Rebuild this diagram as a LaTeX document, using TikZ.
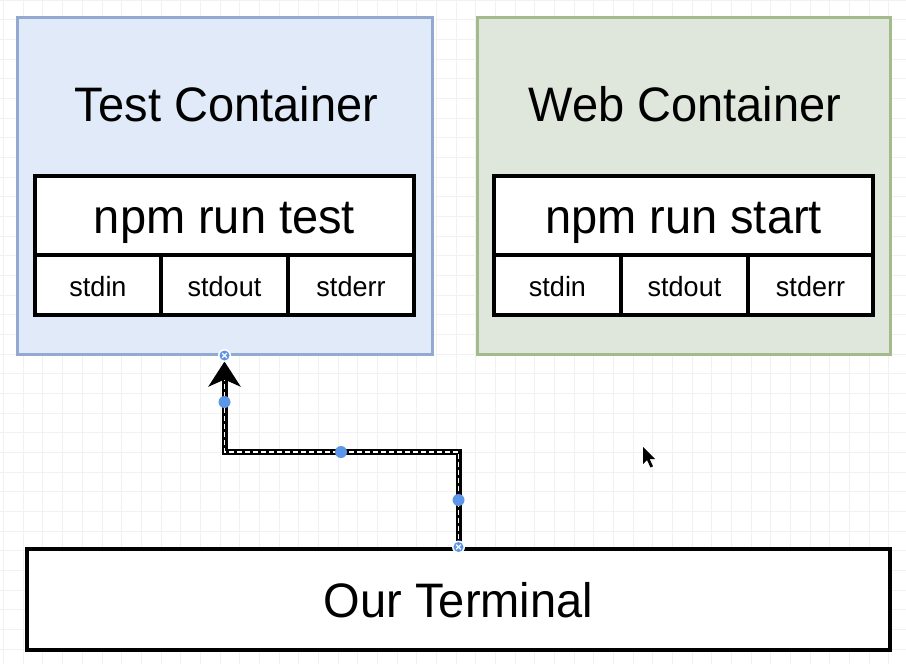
\documentclass[tikz,border=0pt]{standalone}
\usepackage{fontspec}
\setmainfont{Liberation Sans}
\usetikzlibrary{arrows.meta,calc}
\definecolor{testfill}{HTML}{E1EAF8}
\definecolor{testdraw}{HTML}{93A9CF}
\definecolor{webfill}{HTML}{DFE7DC}
\definecolor{webdraw}{HTML}{A3BA8C}
\definecolor{handle}{HTML}{5B96E9}
\definecolor{gridc}{HTML}{F1F1F1}
\newcommand{\bigtxt}[1]{\scalebox{1}[1.03]{#1}}
\newcommand{\smalltxt}[1]{\scalebox{1}[1.03]{#1}}
\tikzset{
  container/.style={draw, line width=3pt, rectangle, inner sep=0pt},
  title/.style={font=\fontsize{47}{50}\selectfont, inner sep=0pt, anchor=base},
  cmdbox/.style={draw=black, fill=white, line width=3.5pt, rectangle, inner sep=0pt, font=\fontsize{47}{50}\selectfont, text height=36pt, text depth=0pt},
  cellbox/.style={draw=black, fill=white, line width=3.5pt, rectangle, inner sep=0pt, font=\fontsize{27}{30}\selectfont, text height=22pt, text depth=0pt},
  termbox/.style={draw=black, fill=white, line width=4pt, rectangle, inner sep=0pt, font=\fontsize{47}{50}\selectfont, text height=35pt, text depth=0pt},
  gridline/.style={draw=gridc, line width=0.9pt},
  dot/.style={circle, fill=handle, inner sep=0pt, minimum size=12pt},
}
\begin{document}
\begin{tikzpicture}[x=1pt,y=-1pt]
\useasboundingbox (0,0) rectangle (906,664);
\fill[white] (0,0) rectangle (906,664);
% grid
\foreach \i in {0,...,46} \draw[gridline] ({3.6+\i*19.67},0) -- ({3.6+\i*19.67},664);
\foreach \j in {0,...,34} \draw[gridline] (0,{\j*19.67}) -- (906,{\j*19.67});
% containers
\node[container, fill=testfill, draw=testdraw, minimum width=415pt, minimum height=337pt] (testc) at (224.5,185.5) {};
\node[container, fill=webfill, draw=webdraw, minimum width=413pt, minimum height=337pt] (webc) at (683.5,185.5) {};
\node[title] (testtitle) at (226.5,121) {\bigtxt{Test Container}};
\node[title] (webtitle) at (685,121) {\bigtxt{Web Container}};
% test table
\node[cmdbox, minimum width=379pt, minimum height=79pt] (testcmd) at (224.5,215.5) {\bigtxt{npm run test}};
\node[cellbox, minimum width=126pt, minimum height=60pt] (tin) at (98,285) {\smalltxt{stdin}};
\node[cellbox, minimum width=127pt, minimum height=60pt] (tout) at (224.5,285) {\smalltxt{stdout}};
\node[cellbox, minimum width=126pt, minimum height=60pt] (terr) at (351,285) {\smalltxt{stderr}};
% web table
\node[cmdbox, minimum width=379pt, minimum height=79pt] (webcmd) at (683.5,215.5) {\bigtxt{npm run start}};
\node[cellbox, minimum width=127pt, minimum height=60pt] (win) at (557.5,285) {\smalltxt{stdin}};
\node[cellbox, minimum width=127pt, minimum height=60pt] (wout) at (684.5,285) {\smalltxt{stdout}};
\node[cellbox, minimum width=125pt, minimum height=60pt] (werr) at (810.5,285) {\smalltxt{stderr}};
% terminal
\node[termbox, minimum width=863pt, minimum height=101pt] (term) at (458.5,599.5) {\bigtxt{Our Terminal}};
% connector
\coordinate (bend) at (224.5,452);
\draw[line width=6pt, -{Stealth[length=25pt,width=32pt,inset=7pt]}, shorten >=6pt] (term.north) |- (bend) -- (testc.south);
\draw[white, line width=1.3pt, dash pattern=on 5pt off 3pt] (term.north) |- (bend) -- ($(testc.south)+(0,24)$);
% handles
\node[dot] (h1) at (224.5,402) {};
\node[dot] (h2) at (341,452) {};
\node[dot] (h3) at (458.5,500) {};
\foreach \p in {testc.south, term.north} {
  \fill[white] (\p) circle (6.5pt);
  \fill[handle] (\p) circle (5pt);
  \draw[white, line width=1.3pt] ($(\p)+(-2.3,-2.3)$) -- ($(\p)+(2.3,2.3)$) ($(\p)+(-2.3,2.3)$) -- ($(\p)+(2.3,-2.3)$);
}
% cursor
\fill[black] (643,447) -- (643,464) -- (647,460) -- (650.5,467.5) -- (653,466.3) -- (649.6,459) -- (655,459) -- cycle;
\end{tikzpicture}
\end{document}
